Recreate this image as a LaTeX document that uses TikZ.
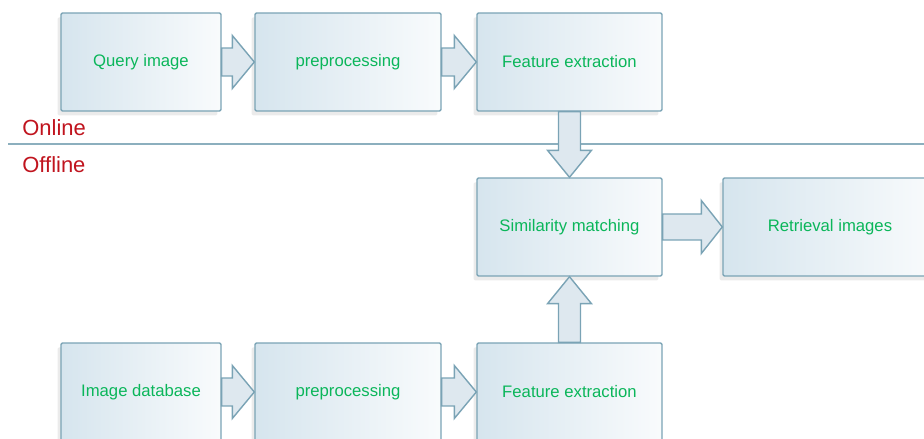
\documentclass[tikz,border=0pt]{standalone}
\usepackage{fontspec}
\setmainfont{Liberation Sans}
\usetikzlibrary{calc, shadows}
\definecolor{boxline}{RGB}{122,163,181}
\definecolor{boxfill}{RGB}{214,229,238}
\definecolor{arrowfill}{RGB}{222,232,239}
\definecolor{sepline}{RGB}{140,175,190}
\definecolor{textgreen}{RGB}{10,182,90}
\definecolor{textred}{RGB}{192,20,30}

\tikzset{
    ashaft/.store in=\ashaft, ahead/.store in=\ahead, alen/.store in=\alen,
    ashaft=0.28cm, ahead=0.53cm, alen=0.44cm
}

\begin{document}
\begin{tikzpicture}[
    x=0.02cm, y=-0.02cm,
    every node/.style={font=\fontsize{9.5}{11}\selectfont},
    stage/.style={rectangle, draw=boxline, line width=0.8pt, rounded corners=0.8pt, left color=boxfill, middle color=white, right color=white!85!boxfill, minimum height=1.96cm, text=textgreen, inner sep=0pt,
        drop shadow={shadow xshift=-2pt, shadow yshift=-2.5pt, opacity=0.08, fill=black}},
    blockarrow/.style={draw=boxline, line width=0.8pt, fill=arrowfill, line join=miter,
        to path={let \p1=($(\tikztotarget)!\alen!(\tikztostart)$) in
            ($(\tikztostart)!\ashaft!90:(\tikztotarget)$) -- ($(\p1)!\ashaft!90:(\tikztotarget)$)
            -- ($(\p1)!\ahead!90:(\tikztotarget)$) -- (\tikztotarget)
            -- ($(\p1)!\ahead!-90:(\tikztotarget)$) -- ($(\p1)!\ashaft!-90:(\tikztotarget)$)
            -- ($(\tikztostart)!\ashaft!-90:(\tikztotarget)$) -- cycle}},
    vertarrow/.style={blockarrow, ashaft=0.22cm, ahead=0.44cm, alen=0.54cm},
    side/.style={font=\fontsize{12.5}{14}\selectfont, text=textred, anchor=west, inner sep=0pt}
]
\path[use as bounding box, clip] (0,0) rectangle (924,439);

% online row
\node[stage, minimum width=3.2cm] (query) at (141,62) {Query image};
\node[stage, minimum width=3.72cm] (prep1) at (348,62) {preprocessing};
\node[stage, minimum width=3.7cm] (feat1) at (569.5,62) {Feature extraction};

% matching
\node[stage, minimum width=3.7cm] (match) at (569.5,227) {Similarity matching};
\node[stage, minimum width=4.28cm] (result) at (830,227) {Retrieval images};

% offline row
\node[stage, minimum width=3.2cm] (db) at (141,392) {Image database};
\node[stage, minimum width=3.72cm] (prep2) at (348,392) {preprocessing};
\node[stage, minimum width=3.7cm] (feat2) at (569.5,392) {Feature extraction};

% online / offline divider
\node[side] (online) at (22,128) {Online};
\node[side] (offline) at (22,165) {Offline};
\draw[sepline, line width=1.2pt] (8,144) coordinate (sepL) -- (924,144) coordinate (sepR);

\draw[blockarrow] (query.east) to (prep1.west);
\draw[blockarrow] (prep1.east) to (feat1.west);
\draw[blockarrow] (db.east) to (prep2.west);
\draw[blockarrow] (prep2.east) to (feat2.west);
\draw[vertarrow] (feat1.south) to (match.north);
\draw[vertarrow] (feat2.north) to (match.south);
\draw[blockarrow, ashaft=0.26cm, alen=0.42cm] (match.east) to (result.west);

\end{tikzpicture}
\end{document}
